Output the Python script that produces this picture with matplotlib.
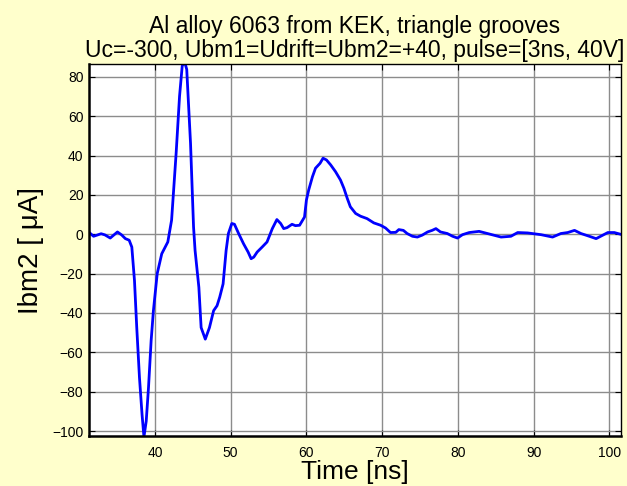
import matplotlib.pyplot as plt

plt.rcParams['font.family'] = ['Liberation Sans', 'DejaVu Sans']

# time [ns] and current Ibm2 [uA]
t_ns = [31.3, 31.9, 32.9, 33.4, 34.1, 35.05, 35.6, 36.1, 36.6, 36.95, 37.3, 37.6,
        37.96, 38.3, 38.55, 38.85, 39.15, 39.5, 39.8, 40.3, 40.9, 41.7, 42.2, 42.8,
        43.25, 43.6, 43.9, 44.2, 44.7, 45.1, 45.3, 45.8, 46.1, 46.65, 47.2, 47.75,
        48.2, 48.55, 49.0, 49.4, 49.7, 50.15, 50.5, 51.05, 51.7, 52.3, 52.7, 53.05,
        53.5, 54.15, 54.8, 55.5, 56.1, 56.6, 57.0, 57.45, 58.1, 58.55, 59.1, 59.75,
        60.0, 60.3, 60.8, 61.2, 61.8, 62.2, 62.65, 63.2, 63.85, 64.5, 64.95, 65.4,
        65.8, 66.5, 67.15, 68.0, 68.9, 69.8, 70.45, 71.1, 71.8, 72.2, 72.8, 73.3,
        74.0, 74.65, 75.3, 76.0, 76.6, 77.1, 77.7, 78.6, 79.3, 79.95, 80.6, 81.5,
        82.8, 83.9, 85.7, 87.0, 87.9, 89.2, 91.0, 92.5, 93.6, 94.5, 95.4, 96.25,
        97.35, 98.25, 98.9, 99.8, 100.65, 101.5]
i_ua = [1.0, -1.0, 0.3, -0.3, -1.9, 1.2, -0.3, -2.2, -3.0, -6.5, -23.5, -47.4,
        -72.9, -91.6, -103.0, -95.0, -78.0, -54.0, -38.8, -20.0, -9.9, -3.9, 7.2, 41.2,
        70.2, 85.5, 88.0, 83.8, 46.3, 3.7, -8.2, -26.9, -47.4, -53.3, -47.4, -38.8,
        -36.3, -32.0, -25.2, -8.2, 0.4, 5.5, 5.1, 0.4, -4.8, -9.0, -12.4, -11.6,
        -9.0, -6.5, -3.9, 2.9, 7.5, 5.5, 2.9, 3.4, 5.1, 4.4, 4.6, 8.8,
        17.4, 22.5, 29.3, 33.6, 36.1, 38.7, 37.8, 35.3, 31.8, 27.6, 23.4, 18.2,
        14.0, 10.6, 9.2, 8.0, 5.8, 4.6, 3.2, 0.9, 1.0, 2.4, 2.0, 0.4,
        -1.0, -1.4, -0.4, 1.2, 2.0, 2.9, 1.2, 0.4, -1.0, -1.9, -0.2, 0.9,
        1.5, 0.4, -1.4, -1.0, 0.9, 0.7, -0.2, -1.4, 0.4, 0.9, 2.0, 0.4,
        -1.0, -2.2, -0.9, 0.9, 0.9, 0.0]

x_ticks = [40, 50, 60, 70, 80, 90, 100]
y_ticks = [-100, -80, -60, -40, -20, 0, 20, 40, 60, 80]

fig = plt.figure(figsize=(6.27, 4.86), dpi=100, facecolor='#ffffcc')
ax = fig.add_axes([0.142, 0.103, 0.848, 0.765])
ax.set_facecolor('white')

ax.plot(t_ns, i_ua, color='#0000ff', linewidth=2)

ax.set_xlim(31.3, 101.5)
ax.set_ylim(-102.5, 86.5)
ax.set_xticks(x_ticks)
ax.set_yticks(y_ticks)
ax.grid(True, color='0.55', linewidth=1.0)
ax.set_axisbelow(True)
ax.tick_params(direction='in', top=True, right=True, length=4, labelsize=10,
               width=0.8)
ax.tick_params(axis='x', pad=7)
ax.tick_params(axis='y', pad=4)
for s in ['left', 'bottom']:
    ax.spines[s].set_linewidth(1.8)
for s in ['top', 'right']:
    ax.spines[s].set_linewidth(1.0)

ax.set_title('Al alloy 6063 from KEK, triangle grooves\n'
             'Uc=-300, Ubm1=Udrift=Ubm2=+40, pulse=[3ns, 40V]',
             fontsize=16.5, pad=5, linespacing=1.05)
ax.set_xlabel('Time [ns]', fontsize=19, labelpad=0)
ax.set_ylabel('Ibm2 [ μA]', fontsize=20, labelpad=6)

plt.savefig('out.png', dpi=100, facecolor=fig.get_facecolor())
